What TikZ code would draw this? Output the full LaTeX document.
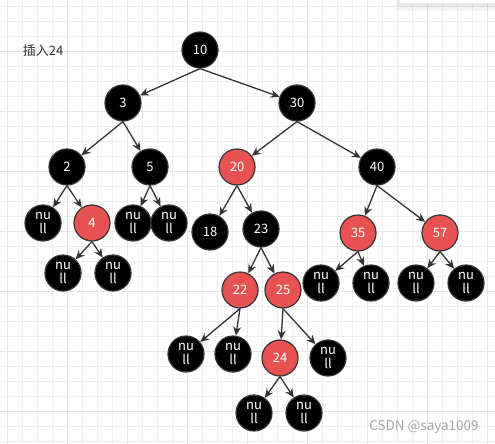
\documentclass[tikz,border=0pt]{standalone}
\usepackage{fontspec}
\setmainfont{Noto Sans CJK SC}
\usetikzlibrary{arrows.meta}
\definecolor{rbred}{RGB}{232,82,82}
\definecolor{edgegray}{RGB}{51,51,51}

\begin{document}
\begin{tikzpicture}
            [x=1pt, y=-1pt, >={Stealth[length=9pt,width=8pt]},
             bk/.style={circle, draw=edgegray, line width=1.2pt, fill=black, text=white, minimum size=36pt, inner sep=0pt, align=center, font=\fontsize{13}{14}\selectfont},
             rd/.style={bk, fill=rbred},
             link/.style={->, draw=edgegray, line width=1.3pt}]
            \useasboundingbox (0,0) rectangle (495,444);
            % background grid
            \foreach \x in {7.7,22.7,...,495} \draw[gray!13, line width=1pt] (\x,0) -- (\x,444);
            \foreach \y in {6.7,21.7,...,444} \draw[gray!13, line width=1pt] (0,\y) -- (495,\y);
            \foreach \x in {7.7,67.7,...,495} \draw[gray!20, line width=1pt] (\x,0) -- (\x,444);
            \foreach \y in {51.7,111.7,...,444} \draw[gray!20, line width=1pt] (0,\y) -- (495,\y);
            \fill[black, opacity=0.04] (396,0) rectangle (495,11);
            \fill[black, opacity=0.05] (398,0) rectangle (495,7);
            \fill[white] (400,0) rectangle (495,3);
            \node[text=edgegray, font=\fontsize{13}{14}\selectfont] (title) at (43,51) {插入24};
            \begin{scope}
            \node[bk] (n10) at (200,50) {10};
            \node[bk] (n3) at (123,103) {3};
            \node[bk] (n30) at (297,103) {30};
            \node[bk] (n2) at (67,167) {2};
            \node[bk] (n5) at (150,167) {5};
            \node[rd] (n20) at (237,167) {20};
            \node[bk] (n40) at (377,167) {40};
            \node[bk] (nil1) at (43,223) {nu\\ll};
            \node[rd] (n4) at (92,223) {4};
            \node[bk] (nil2) at (133,223) {nu\\ll};
            \node[bk] (nil3) at (169,223) {nu\\ll};
            \node[bk] (n18) at (210,232) {18};
            \node[bk] (n23) at (261,229) {23};
            \node[rd] (n35) at (358,233) {35};
            \node[rd] (n57) at (440,233) {57};
            \node[bk] (nil4) at (63,273) {nu\\ll};
            \node[bk] (nil5) at (113,273) {nu\\ll};
            \node[rd] (n22) at (240,290) {22};
            \node[rd] (n25) at (283,290) {25};
            \node[bk] (nil6) at (321,283) {nu\\ll};
            \node[bk] (nil7) at (371,283) {nu\\ll};
            \node[bk] (nil8) at (416,283) {nu\\ll};
            \node[bk] (nil9) at (466,283) {nu\\ll};
            \node[bk] (nil10) at (186,354) {nu\\ll};
            \node[bk] (nil11) at (233,354) {nu\\ll};
            \node[rd] (n24) at (280,358) {24};
            \node[bk] (nil12) at (328,358) {nu\\ll};
            \node[bk] (nil13) at (254,413) {nu\\ll};
            \node[bk] (nil14) at (304,413) {nu\\ll};
            \draw[link] (n10.south) -- (n3);
            \draw[link] (n10.south) -- (n30);
            \draw[link] (n3.south) -- (n2);
            \draw[link] (n3.south) -- (n5);
            \draw[link] (n30.south) -- (n20);
            \draw[link] (n30.south) -- (n40);
            \draw[link] (n2.south) -- (nil1);
            \draw[link] (n2.south) -- (n4);
            \draw[link] (n5.south) -- (nil2);
            \draw[link] (n5.south) -- (nil3);
            \draw[link] (n20.south) -- (n18);
            \draw[link] (n20.south) -- (n23);
            \draw[link] (n40.south) -- (n35);
            \draw[link] (n40.south) -- (n57);
            \draw[link] (n4.south) -- (nil4);
            \draw[link] (n4.south) -- (nil5);
            \draw[link] (n23.south) -- (n22);
            \draw[link] (n23.south) -- (n25);
            \draw[link] (n35.south) -- (nil6);
            \draw[link] (n35.south) -- (nil7);
            \draw[link] (n57.south) -- (nil8);
            \draw[link] (n57.south) -- (nil9);
            \draw[link] (n22.south) -- (nil10);
            \draw[link] (n22.south) -- (nil11);
            \draw[link] (n25.south) -- (n24);
            \draw[link] (n25.south) -- (nil12);
            \draw[link] (n24.south) -- (nil13);
            \draw[link] (n24.south) -- (nil14);
            \end{scope}
            \node[text=gray!70, font=\fontsize{13.5}{14}\selectfont] (mark) at (424,427) {CSDN @saya1009};
            \end{tikzpicture}
\end{document}
